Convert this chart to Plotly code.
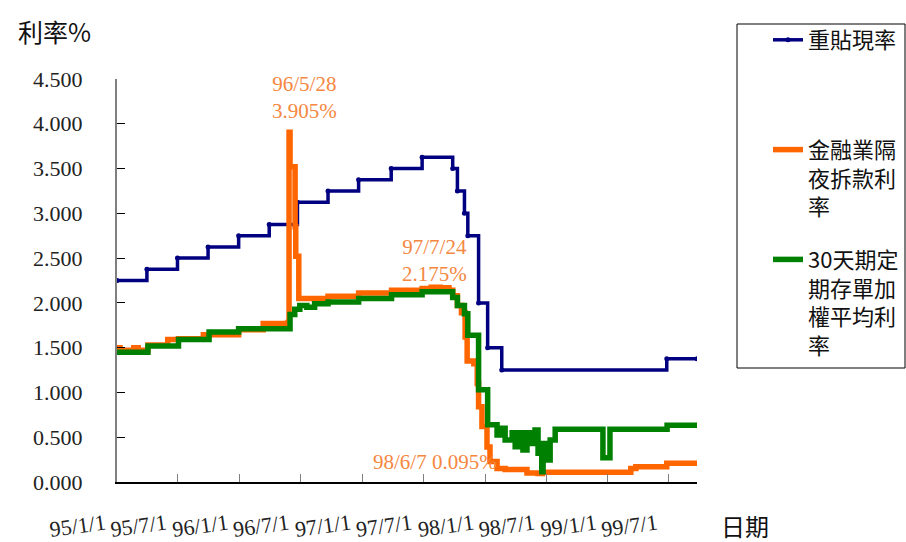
import plotly.graph_objects as go

# ---------------- data ----------------
blue_dates = ["2006-01-01", "2006-03-31", "2006-06-30", "2006-09-29", "2006-12-29",
              "2007-03-30", "2007-06-22", "2007-09-21", "2007-12-21", "2008-03-27",
              "2008-06-27", "2008-09-26", "2008-10-10", "2008-10-31", "2008-11-10",
              "2008-12-12", "2009-01-08", "2009-02-19", "2010-06-25", "2010-09-23"]
blue_values = [2.25, 2.375, 2.5, 2.625, 2.75,
               2.875, 3.125, 3.25, 3.375, 3.5,
               3.625, 3.5, 3.25, 3.0, 2.75,
               2.0, 1.5, 1.25, 1.375, 1.375]

orange_dates = ["2006-01-01", "2006-01-10", "2006-02-20", "2006-03-05", "2006-04-03",
                "2006-06-01", "2006-07-03", "2006-09-15", "2006-12-29", "2007-03-12",
                "2007-05-25", "2007-05-28", "2007-05-31", "2007-06-15", "2007-06-17",
                "2007-06-26", "2007-09-21", "2007-12-21", "2008-03-28", "2008-06-27",
                "2008-07-24", "2008-08-20", "2008-09-15", "2008-09-26", "2008-10-10",
                "2008-10-22", "2008-11-02", "2008-11-08", "2008-11-28", "2008-12-08",
                "2008-12-12", "2008-12-22", "2009-01-06", "2009-01-15", "2009-02-05",
                "2009-03-01", "2009-05-05", "2009-06-07", "2009-06-20", "2009-12-01",
                "2010-03-10", "2010-03-25", "2010-06-25", "2010-09-23"]
orange_values = [1.50, 1.47, 1.50, 1.47, 1.53,
                 1.59, 1.60, 1.645, 1.70, 1.77,
                 1.78, 3.905, 3.52, 2.85, 2.52,
                 2.05, 2.075, 2.11, 2.14, 2.16,
                 2.175, 2.17, 2.14, 2.08, 1.97,
                 1.89, 1.62, 1.35, 1.32, 1.10,
                 0.84, 0.62, 0.39, 0.23, 0.15,
                 0.14, 0.10, 0.095, 0.11, 0.11,
                 0.15, 0.17, 0.21, 0.21]

green_dates = ["2006-01-01", "2006-04-03", "2006-07-03", "2006-10-02", "2006-12-29",
               "2007-05-31", "2007-06-14", "2007-06-29", "2007-07-20", "2007-08-12",
               "2007-09-21", "2007-12-21", "2008-03-28", "2008-06-27", "2008-09-26",
               "2008-10-10", "2008-10-31", "2008-11-10", "2008-12-12", "2009-01-08",
               "2009-02-05", "2009-02-14", "2009-03-01", "2009-03-22", "2009-03-31",
               "2009-04-08", "2009-04-23", "2009-05-05", "2009-05-14", "2009-05-29",
               "2009-06-07", "2009-06-18", "2009-06-22", "2009-07-04", "2009-07-13",
               "2009-07-28", "2009-12-17", "2010-01-07", "2010-06-26", "2010-09-23"]
green_values = [1.45, 1.52, 1.59, 1.675, 1.71,
                1.87, 1.93, 1.97, 1.95, 1.99,
                2.01, 2.05, 2.09, 2.125, 2.06,
                1.97, 1.88, 1.64, 1.03, 0.64,
                0.525, 0.60, 0.47, 0.55, 0.395,
                0.55, 0.357, 0.55, 0.43, 0.58,
                0.32, 0.115, 0.43, 0.245, 0.47,
                0.59, 0.27, 0.59, 0.635, 0.635]

tick_dates = ["2006-01-01", "2006-07-01", "2007-01-01", "2007-07-01", "2008-01-01",
              "2008-07-01", "2009-01-01", "2009-07-01", "2010-01-01", "2010-07-01"]
tick_labels = ["95/1/1", "95/7/1", "96/1/1", "96/7/1", "97/1/1",
               "97/7/1", "98/1/1", "98/7/1", "99/1/1", "99/7/1"]

names = ["重貼現率<br> <br> ", "金融業隔<br>夜拆款利<br>率", "30天期定<br>期存單加<br>權平均利<br>率"]

SERIF = "Liberation Serif, 'Noto Sans CJK TC'"
CJK = "'Noto Sans CJK TC', Liberation Serif"
ANN_COLOR = "#F5873F"

# ---------------- layout geometry ----------------
W, H = 906, 542
L, R, T, B = 117, 697, 79, 482
pw, ph = R - L, B - T


def px(x):
    return (x - L) / pw


def py(y):
    return (B - y) / ph


fig = go.Figure()
fig.add_trace(go.Scatter(x=blue_dates, y=blue_values, name=names[0], mode="lines+markers",
                         line=dict(color="#000080", width=3.5, shape="hv"),
                         marker=dict(color="#000080", size=5), legendgroup="a"))
fig.add_trace(go.Scatter(x=orange_dates, y=orange_values, name=names[1], mode="lines",
                         line=dict(color="#FF6600", width=5.5, shape="hv"), legendgroup="b"))
fig.add_trace(go.Scatter(x=green_dates, y=green_values, name=names[2], mode="lines",
                         line=dict(color="#008000", width=5.5, shape="hv"), legendgroup="c"))

annotations = [
    dict(x="2007-07-14", y=4.29, text="96/5/28<br>3.905%", showarrow=False,
         font=dict(family=SERIF, size=21, color=ANN_COLOR)),
    dict(x="2008-08-04", y=2.468, text="97/7/24<br>2.175%", showarrow=False,
         font=dict(family=SERIF, size=21, color=ANN_COLOR)),
    dict(x="2008-08-03", y=0.223, text="98/6/7 0.095%", showarrow=False,
         font=dict(family=SERIF, size=21, color=ANN_COLOR)),
    dict(xref="paper", yref="paper", x=px(54), y=py(31), xanchor="center", yanchor="middle",
         text="利率%", showarrow=False, font=dict(family=CJK, size=25, color="#111")),
    dict(xref="paper", yref="paper", x=px(745), y=py(525), xanchor="center", yanchor="middle",
         text="日期", showarrow=False, font=dict(family=CJK, size=24, color="#111")),
]

fig.update_layout(
    width=W, height=H,
    margin=dict(l=L, r=W - R, t=T, b=H - B, pad=0, autoexpand=False),
    paper_bgcolor="white", plot_bgcolor="white",
    showlegend=True,
    legend=dict(xref="container", yref="container",
                x=768 / W, y=1 - 19 / H, xanchor="left", yanchor="top",
                font=dict(family=CJK, size=22, color="#111"),
                traceorder="grouped", tracegroupgap=21, valign="top",
                bgcolor="rgba(0,0,0,0)", borderwidth=0, maxheight=600),
    annotations=annotations,
    shapes=[dict(type="rect", xref="paper", yref="paper",
                 x0=px(737), x1=px(905), y0=py(368), y1=py(24),
                 line=dict(color="#000", width=1))],
)

fig.update_xaxes(type="date", range=["2006-01-01", "2010-09-23"],
                 tickvals=tick_dates, ticktext=tick_labels, tickangle=-8,
                 ticks="inside", ticklen=8, tickcolor="#808080", tickwidth=1,
                 showline=True, linecolor="#000", linewidth=2, showgrid=False, zeroline=False,
                 tickfont=dict(family=SERIF, size=22, color="#222"),
                 ticklabelstandoff=19, ticklabelshift=-12, automargin=False)
fig.update_yaxes(range=[0, 4.5], dtick=0.5, tick0=0, tickformat=".3f",
                 ticks="inside", ticklen=8, tickcolor="#000", tickwidth=1,
                 showline=True, linecolor="#808080", linewidth=2, showgrid=False, zeroline=False,
                 tickfont=dict(family=SERIF, size=22, color="#222"),
                 ticklabelstandoff=28, automargin=False)

fig.write_html("out.html")
